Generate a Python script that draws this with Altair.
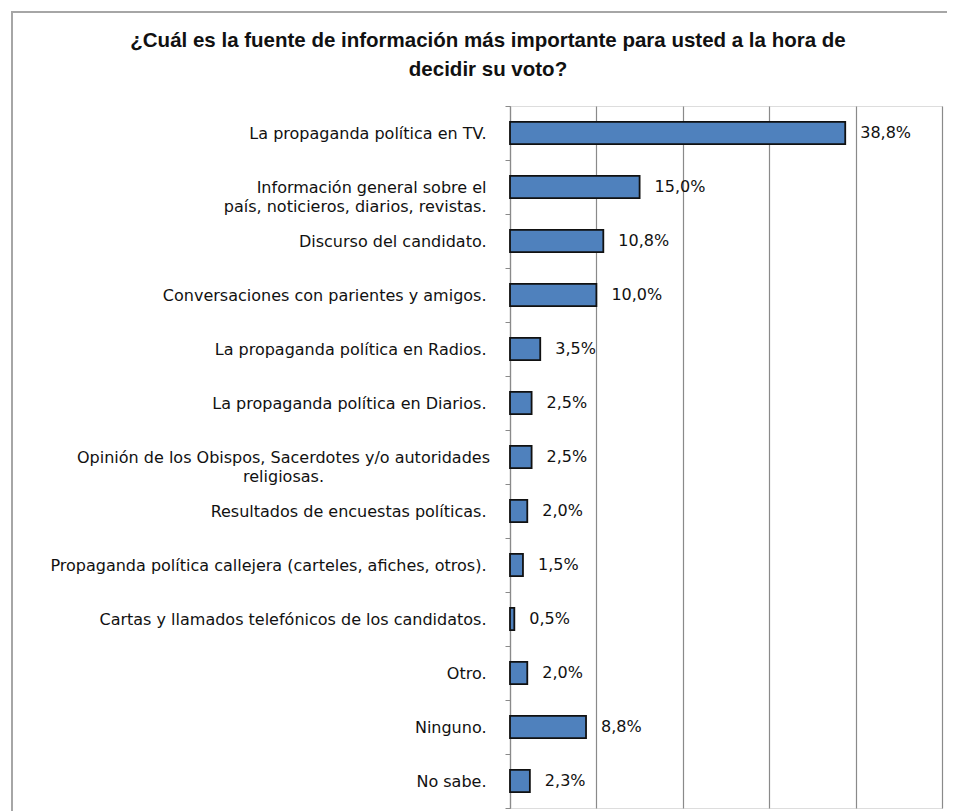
import altair as alt
import pandas as pd

categories = [
    "La propaganda política en TV.",
    "Información general sobre el\npaís, noticieros, diarios, revistas.",
    "Discurso del candidato.",
    "Conversaciones con parientes y amigos.",
    "La propaganda política en Radios.",
    "La propaganda política en Diarios.",
    "Opinión de los Obispos, Sacerdotes y/o autoridades\nreligiosas.",
    "Resultados de encuestas políticas.",
    "Propaganda política callejera (carteles, afiches, otros).",
    "Cartas y llamados telefónicos  de los candidatos.",
    "Otro.",
    "Ninguno.",
    "No sabe.",
]
values = [38.8, 15.0, 10.8, 10.0, 3.5, 2.5, 2.5, 2.0, 1.5, 0.5, 2.0, 8.8, 2.3]
title_lines = [
    "¿Cuál es la fuente de información más importante  para usted a la hora de",
    "decidir su voto?",
]

df = pd.DataFrame({"cat": categories, "v": values})

FONT = "DejaVu Sans"
TXT = "#111111"
GRID = "#8a8a8a"

centered_test = "isValid(datum.value) && indexof(datum.value, 'Opini') == 0"

y_enc = alt.Y(
    "cat:N",
    sort=categories,
    title=None,
    scale=alt.Scale(paddingInner=0, paddingOuter=0),
    axis=alt.Axis(
        labelExpr="isValid(datum.value) ? split(datum.value, '\\n') : ''",
        labelFont=FONT,
        labelFontSize=16,
        labelColor=TXT,
        labelLineHeight=19,
        labelAlign={"condition": {"test": centered_test, "value": "center"}, "value": "right"},
        labelPadding={"condition": {"test": centered_test, "value": 222}, "value": 19},
        labelLimit=700,
        tickBand="extent",
        tickSize=5,
        tickColor=GRID,
        domainColor=GRID,
        domainWidth=1.2,
        grid=False,
    ),
)
x_enc = alt.X(
    "v:Q",
    title=None,
    scale=alt.Scale(domain=[0, 50], nice=False, zero=True),
    axis=alt.Axis(
        values=[0, 10, 20, 30, 40, 50],
        labels=False,
        ticks=False,
        domain=False,
        grid=True,
        gridColor=GRID,
        gridWidth=1.2,
    ),
)

bars = alt.Chart(df).mark_bar(
    height={"band": 0.41},
    color="#4F81BD",
    stroke="#111111",
    strokeWidth=1.8,
).encode(x=x_enc, y=y_enc)

labels = alt.Chart(df).transform_calculate(
    lab="replace(format(datum.v, '.1f'), '.', ',') + '%'"
).mark_text(
    align="left", baseline="middle", dx=15, font=FONT, fontSize=16, color=TXT
).encode(x="v:Q", y=alt.Y("cat:N", sort=categories), text="lab:N")

frame_df = pd.DataFrame({"a": [0]})
left_border = alt.Chart(frame_df).mark_rule(color="#a6a6a6", strokeWidth=2).encode(
    x=alt.value(-498), y=alt.value(-94), y2=alt.value(710)
)
top_border = alt.Chart(frame_df).mark_rule(color="#a6a6a6", strokeWidth=2).encode(
    x=alt.value(-499), x2=alt.value(460), y=alt.value(-94)
)

chart = alt.layer(left_border, top_border, bars, labels).properties(
    width=432,
    height=702,
    padding={"left": 502, "top": 98, "right": 5, "bottom": 3},
    autosize=alt.AutoSizeParams(type="none"),
    title=alt.TitleParams(
        text=title_lines,
        font="Liberation Sans",
        fontSize=20.5,
        fontWeight="bold",
        color="#111111",
        anchor="middle",
        frame="group",
        dx=-238,
        dy=69,
        offset=0,
        lineHeight=29,
    ),
).configure_view(stroke=None).configure(background="white")

chart.save("out.html", embed_options={"renderer": "svg", "actions": False})
